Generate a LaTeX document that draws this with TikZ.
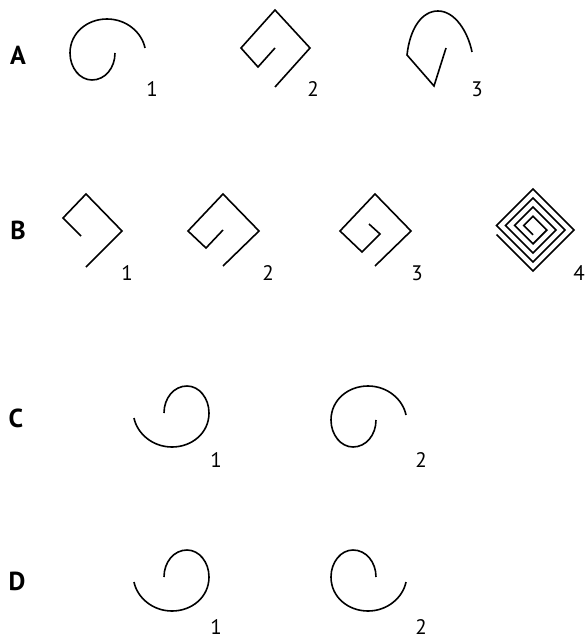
\documentclass[tikz,border=0pt]{standalone}
\usepackage{fontspec}
\setmainfont{PT Sans}
\usepackage{tikz}
\tikzset{
  ln/.style={line width=1.6pt},
  num/.style={anchor=base,inner sep=0pt,font=\fontsize{21}{24}\selectfont},
  tag/.style={anchor=base,inner sep=0pt,font=\fontsize{26}{30}\selectfont\bfseries},
  curl/.pic={
    \draw[ln] (0,0) .. controls (0,15) and (-10,27) .. (-23,27)
      .. controls (-35,27) and (-45,15) .. (-45,0)
      .. controls (-45,-20) and (-28,-34) .. (-8,-34)
      .. controls (12,-34) and (27,-20) .. (30,-5);
  },
}

\begin{document}
\begin{tikzpicture}[x=1pt,y=-1pt]
\useasboundingbox (0,0) rectangle (585,639);
% row labels
\node[tag] (rowA) at (18,65) {A};
\node[tag] (rowB) at (18,239) {B};
\node[tag] (rowC) at (16,427) {C};
\node[tag] (rowD) at (17,590) {D};
% Row A
\pic at (115,53) {curl};
\draw[ln] (275,87) -- (310,48) -- (275,10) -- (241,48) -- (258,67) -- (275,48);
\draw[ln] (446,48) -- (434,86) -- (407,55)
  .. controls (410,28) and (422,11) .. (438,11)
  .. controls (455,11) and (468,32) .. (472,52);
\node[num] (a1) at (152,97) {1};
\node[num] (a2) at (313,97) {2};
\node[num] (a3) at (477,97) {3};
% Row B
\draw[ln] (81,236) -- (63,218) -- (86,194) -- (122,231) -- (86,267);
\draw[ln] (223,266) -- (259,231) -- (223,194) -- (188,231) -- (206,248) -- (223,230);
\draw[ln] (375,266) -- (411,231) -- (375,194) -- (340,231) -- (362,252) -- (380,234) -- (369,224);
\begin{scope}[shift={(533,230)},x=1pt,y=1pt,rotate=45]
  \draw[ln] (-29,22.6) \foreach \k in {0,...,3}{
      -- ({-29+\k*6.4},{-29+\k*6.4}) -- ({29-\k*6.4},{-29+\k*6.4})
      -- ({29-\k*6.4},{29-\k*6.4}) -- ({-29+(\k+1)*6.4},{29-\k*6.4}) } -- (-3.4,-3.4);
\end{scope}
\node[num] (b1) at (127,280) {1};
\node[num] (b2) at (268,280) {2};
\node[num] (b3) at (417,280) {3};
\node[num] (b4) at (579,280) {4};
% Row C
\pic[rotate=180] at (164,413) {curl};
\pic at (376,420) {curl};
\node[num] (c1) at (216,467) {1};
\node[num] (c2) at (421,467) {2};
% Row D
\pic[rotate=180] at (164,577) {curl};
\pic[yscale=-1] at (376,577) {curl};
\node[num] (d1) at (216,634) {1};
\node[num] (d2) at (421,634) {2};
\end{tikzpicture}
\end{document}
